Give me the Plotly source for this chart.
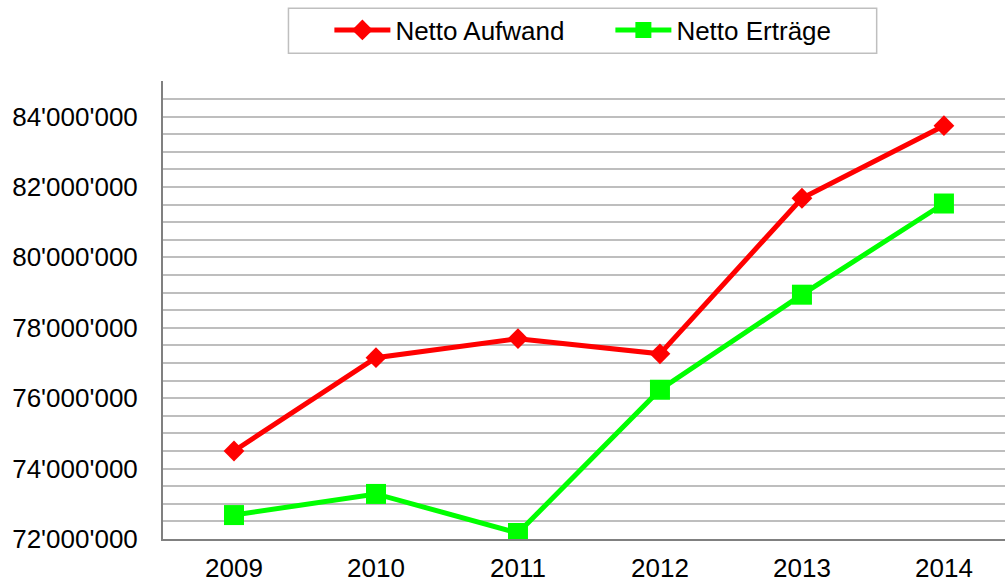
import plotly.graph_objects as go

years = ["2009", "2010", "2011", "2012", "2013", "2014"]
aufwand = [74.50e6, 77.15e6, 77.69e6, 77.26e6, 81.68e6, 83.74e6]
ertraege = [72.68e6, 73.28e6, 72.17e6, 76.24e6, 78.94e6, 81.53e6]
tick_vals = [72e6, 74e6, 76e6, 78e6, 80e6, 82e6, 84e6]
tick_text = ["72'000'000", "74'000'000", "76'000'000", "78'000'000",
             "80'000'000", "82'000'000", "84'000'000"]

fig = go.Figure()
fig.add_trace(go.Scatter(
    x=years, y=aufwand, name="Netto Aufwand", mode="lines+markers",
    line=dict(color="#FF0000", width=5),
    marker=dict(symbol="diamond", size=16, color="#FF0000"),
))
fig.add_trace(go.Scatter(
    x=years, y=ertraege, name="Netto Erträge", mode="lines+markers",
    line=dict(color="#00FF00", width=5),
    marker=dict(symbol="square", size=20, color="#00FF00"),
))

fig.update_layout(
    width=1005, height=582,
    margin=dict(l=163, r=0, t=81, b=43, autoexpand=False),
    paper_bgcolor="white", plot_bgcolor="white",
    font=dict(family="Liberation Sans, Arial, sans-serif", color="black"),
    showlegend=True,
    legend=dict(
        orientation="h", x=0.1976, xanchor="left", y=1.1114, yanchor="middle",
        font=dict(size=26, color="black"),
        borderwidth=0, bgcolor="rgba(0,0,0,0)",
        itemwidth=56, entrywidth=210,
    ),
    shapes=[dict(
        type="rect", xref="paper", yref="paper",
        x0=0.1490, x1=0.8476, y0=1.0605, y1=1.1587,
        line=dict(color="#BFBFBF", width=1.5), fillcolor="rgba(0,0,0,0)",
        layer="below",
    )],
)
fig.update_xaxes(
    type="category", range=[-0.5, 5.43], automargin=False,
    showline=True, linecolor="#808080", linewidth=2,
    showgrid=False, ticks="", tickfont=dict(size=26),
    ticklabelstandoff=5,
)
fig.update_yaxes(
    range=[72e6, 85.01e6], automargin=False,
    tickvals=tick_vals, ticktext=tick_text,
    showline=True, linecolor="#808080", linewidth=2,
    showgrid=True, gridcolor="#BEBEBE", gridwidth=1.5,
    minor=dict(dtick=500000, showgrid=True, gridcolor="#BEBEBE", gridwidth=1.5),
    ticks="", tickfont=dict(size=26), ticklabelstandoff=18,
    zeroline=False,
)

fig.write_html("out.html", config={"displayModeBar": False},
               post_script="document.body.style.margin='0';")
